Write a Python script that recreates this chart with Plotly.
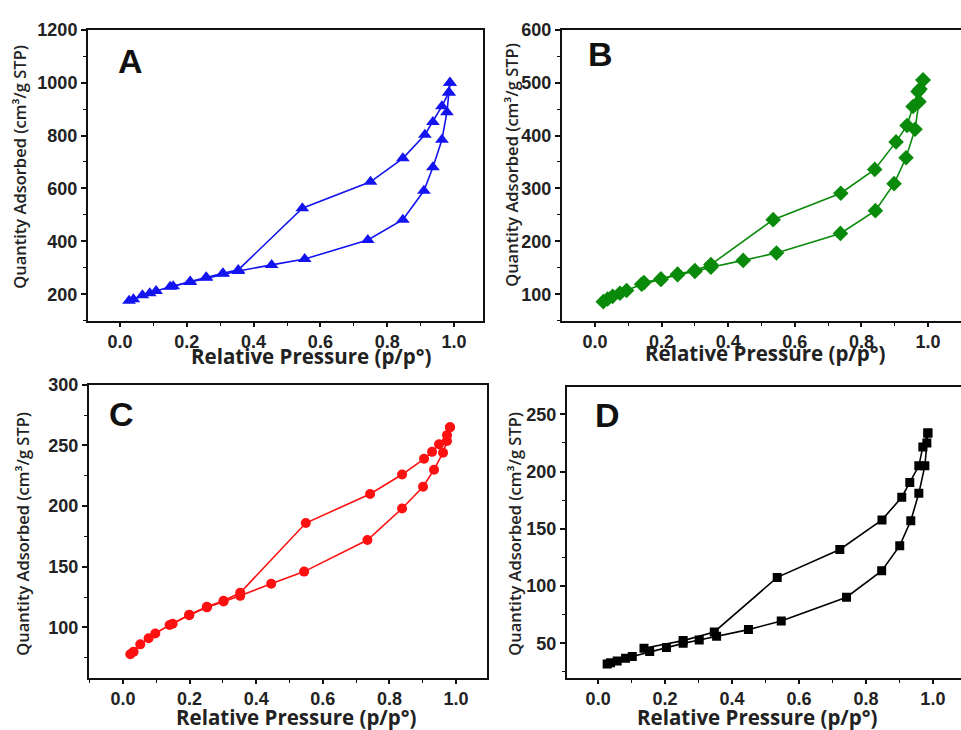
import plotly.graph_objects as go

# ---------------- data ----------------
# Panel A (blue triangles)
a_ads_x = [0.027, 0.04, 0.067, 0.089, 0.108, 0.15, 0.21, 0.258, 0.308, 0.354, 0.454, 0.553, 0.742, 0.847, 0.910, 0.937, 0.964, 0.979, 0.985, 0.988]
a_ads_y = [175, 181, 196, 204, 212, 228, 246, 262, 277, 288, 311, 333, 405, 482, 591, 680, 784, 888, 963, 1000]
a_des_x = [0.988, 0.985, 0.964, 0.937, 0.913, 0.847, 0.75, 0.546, 0.354, 0.308, 0.258, 0.21, 0.159]
a_des_y = [1000, 963, 911, 851, 803, 714, 625, 525, 292, 279, 264, 248, 230]

# Panel B (green diamonds)
b_ads_x = [0.025, 0.038, 0.053, 0.075, 0.095, 0.14, 0.198, 0.248, 0.30, 0.348, 0.445, 0.545, 0.737, 0.842, 0.898, 0.934, 0.961, 0.973, 0.976, 0.985]
b_ads_y = [86, 91, 96, 102, 107, 119, 128, 137, 143, 151, 164, 178, 215, 258, 309, 358, 412, 464, 488, 505]
b_des_x = [0.985, 0.970, 0.955, 0.937, 0.904, 0.84, 0.738, 0.535, 0.348, 0.30, 0.248, 0.198, 0.147]
b_des_y = [505, 483, 455, 419, 388, 336, 291, 241, 156, 145, 138, 129, 122]

# Panel C (red circles)
c_ads_x = [0.022, 0.032, 0.052, 0.077, 0.097, 0.14, 0.199, 0.252, 0.302, 0.352, 0.445, 0.544, 0.734, 0.838, 0.901, 0.934, 0.961, 0.973, 0.982]
c_ads_y = [77.8, 80, 86, 91, 95, 102, 110, 116.5, 121.4, 126, 136, 146, 172, 198, 216, 230, 244, 253.7, 265]
c_des_x = [0.982, 0.973, 0.949, 0.928, 0.904, 0.838, 0.742, 0.549, 0.352, 0.302, 0.252, 0.199, 0.149]
c_des_y = [265, 258.5, 251, 244.7, 239, 226, 210, 186, 128.5, 122, 117, 110.5, 103]

# Panel D (black squares)
d_ads_x = [0.027, 0.037, 0.057, 0.082, 0.102, 0.154, 0.204, 0.254, 0.302, 0.354, 0.449, 0.547, 0.742, 0.847, 0.901, 0.934, 0.958, 0.976, 0.982, 0.985]
d_ads_y = [31.9, 33, 34.7, 37, 38.5, 42.8, 46.3, 50, 53, 56.3, 62, 69.6, 90.3, 113.3, 135.3, 157, 181, 205, 225, 233.6]
d_des_x = [0.985, 0.970, 0.958, 0.931, 0.907, 0.848, 0.722, 0.535, 0.347, 0.254, 0.137]
d_des_y = [233.6, 221.5, 205, 190.5, 177.6, 157.8, 132, 107.6, 60, 52.4, 45.7]

panel_labels = ["A", "B", "C", "D"]
x_title = "Relative Pressure (p/p°)"
y_title = "Quantity Adsorbed (cm³/g STP)"

# ---------------- figure ----------------
W, H = 961, 730
fig = go.Figure()

panels = [
    (a_ads_x, a_ads_y, a_des_x, a_des_y, "#1414f0", "triangle-up", 12, "x", "y"),
    (b_ads_x, b_ads_y, b_des_x, b_des_y, "#0a8a0a", "diamond", 12, "x2", "y2"),
    (c_ads_x, c_ads_y, c_des_x, c_des_y, "#ff1010", "circle", 10, "x3", "y3"),
    (d_ads_x, d_ads_y, d_des_x, d_des_y, "#000000", "square", 9, "x4", "y4"),
]
for ax, ay, dx, dy, col, sym, sz, xa, ya in panels:
    for xs, ys in ((ax, ay), (dx, dy)):
        fig.add_trace(go.Scatter(
            x=xs, y=ys, mode="lines+markers", xaxis=xa, yaxis=ya,
            line=dict(color=col, width=1.6),
            marker=dict(symbol=sym, size=sz, color=col, line=dict(width=0)),
            showlegend=False, hoverinfo="skip"))

def px_x(p):
    return p / W

def px_y(p):
    return 1 - p / H

tickfont = dict(family="Liberation Sans, Arial", size=18, color="#222222", weight="bold")

def xaxis(dom, rng):
    return dict(domain=dom, range=rng, tick0=0, dtick=0.2, tickformat=".1f",
                ticks="outside", ticklen=4, tickwidth=1.5, tickcolor="#111",
                minor=dict(dtick=0.1, ticks="outside", ticklen=3, tickwidth=1.2, tickcolor="#111"),
                showline=True, linewidth=2, linecolor="#111", mirror=True,
                showgrid=False, zeroline=False, tickfont=tickfont, fixedrange=True)

def yaxis(dom, rng, dt, mdt, mirror):
    return dict(domain=dom, range=rng, tick0=0, dtick=dt,
                ticks="outside", ticklen=5, tickwidth=1.5, tickcolor="#111",
                minor=dict(dtick=mdt, ticks="outside", ticklen=3, tickwidth=1.2, tickcolor="#111"),
                showline=True, linewidth=2, linecolor="#111", mirror=mirror,
                showgrid=False, zeroline=False, tickfont=tickfont, fixedrange=True)

fig.update_layout(
    width=W, height=H, margin=dict(l=0, r=0, t=0, b=0),
    paper_bgcolor="white", plot_bgcolor="white",
    xaxis=dict(xaxis([px_x(88), px_x(483)], [-0.096, 1.087]), anchor="y"),
    yaxis=dict(yaxis([px_y(315), px_y(20)], [100, 1200], 200, 100, True), anchor="x"),
    xaxis2=dict(xaxis([px_x(562), 1.0], [-0.099, 1.099]), anchor="y2"),
    yaxis2=dict(yaxis([px_y(315), px_y(20)], [50, 600], 100, 50, False), anchor="x2"),
    xaxis3=dict(xaxis([px_x(89), px_x(487)], [-0.102, 1.093]), anchor="y3"),
    yaxis3=dict(yaxis([px_y(677), px_y(380)], [58.5, 300], 50, 25, True), anchor="x3"),
    xaxis4=dict(xaxis([px_x(567), 1.0], [-0.093, 1.084]), anchor="y4"),
    yaxis4=dict(yaxis([px_y(677), px_y(382)], [20, 274], 50, 25, False), anchor="x4"),
)

annotations = []
title_font_x = dict(family="Open Sans", size=20.5, color="#222222", weight="bold")
title_font_y = dict(family="Open Sans", size=16.5, color="#222222", weight=600)
letter_font = dict(family="Liberation Sans, Arial", size=34, color="#111111", weight="bold")

# x titles (centre px positions)
for cx, cy in ((311, 351), (765, 348), (296, 717), (757, 717)):
    annotations.append(dict(text=x_title, x=px_x(cx), y=px_y(cy), xref="paper", yref="paper",
                            xanchor="center", yanchor="middle", showarrow=False, font=title_font_x))
# y titles
for cx, cy in ((20, 159), (512, 157), (23, 531), (515, 531)):
    annotations.append(dict(text=y_title, x=px_x(cx), y=px_y(cy), xref="paper", yref="paper",
                            xanchor="center", yanchor="middle", textangle=-90, showarrow=False,
                            font=title_font_y))
# panel letters (left px, centre px)
for lab, (lx, ly) in zip(panel_labels, ((116, 52), (586, 45), (107, 410), (593, 411))):
    annotations.append(dict(text=lab, x=px_x(lx), y=px_y(ly), xref="paper", yref="paper",
                            xanchor="left", yanchor="middle", showarrow=False, font=letter_font))

fig.update_layout(annotations=annotations)
fig.write_html("out.html")
